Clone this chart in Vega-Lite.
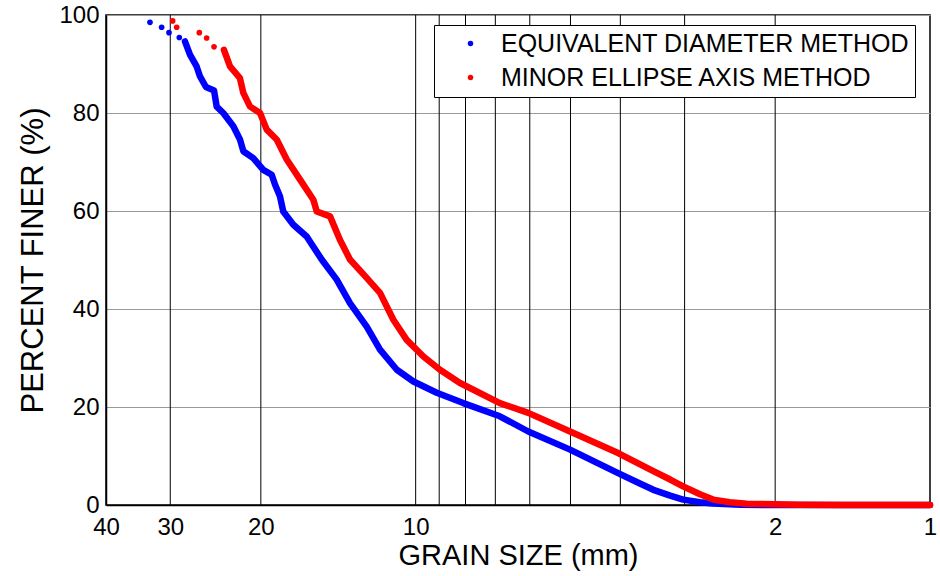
{
  "$schema": "https://vega.github.io/schema/vega-lite/v6.json",
  "width": 824,
  "height": 490,
  "autosize": "none",
  "padding": {"left": 106, "top": 15, "right": 10, "bottom": 71},
  "background": "white",
  "config": {
    "font": "Liberation Sans",
    "view": {"stroke": "black", "strokeWidth": 1.5},
    "axis": {
      "labelFont": "Liberation Sans",
      "titleFont": "Liberation Sans",
      "labelColor": "black",
      "titleColor": "black",
      "titleFontWeight": "normal",
      "domainColor": "black",
      "domainWidth": 1.5,
      "ticks": false,
      "labelFlush": false,
      "labelOverlap": false
    },
    "legend": {
      "orient": "none",
      "legendX": 328,
      "legendY": 10,
      "title": null,
      "fillColor": "white",
      "strokeColor": "black",
      "padding": 6,
      "labelFont": "Liberation Sans",
      "labelFontSize": 25,
      "labelColor": "black",
      "labelLimit": 0,
      "labelOffset": 18,
      "symbolType": "circle",
      "symbolSize": 30,
      "symbolOffset": 18,
      "symbolStrokeWidth": 0,
      "rowPadding": 8
    }
  },
  "datasets": {
    "grid": [
      {"size": 30}, {"size": 20}, {"size": 10}, {"size": 9}, {"size": 8}, {"size": 7},
      {"size": 6}, {"size": 5}, {"size": 4}, {"size": 3}, {"size": 2}
    ],
    "curve": [
      {"method": "EQUIVALENT DIAMETER METHOD", "size": 28.09, "pct": 94.6},
      {"method": "EQUIVALENT DIAMETER METHOD", "size": 27.47, "pct": 91.9},
      {"method": "EQUIVALENT DIAMETER METHOD", "size": 26.66, "pct": 89.5},
      {"method": "EQUIVALENT DIAMETER METHOD", "size": 26.27, "pct": 87.5},
      {"method": "EQUIVALENT DIAMETER METHOD", "size": 25.57, "pct": 85.3},
      {"method": "EQUIVALENT DIAMETER METHOD", "size": 24.66, "pct": 84.6},
      {"method": "EQUIVALENT DIAMETER METHOD", "size": 24.37, "pct": 81.3},
      {"method": "EQUIVALENT DIAMETER METHOD", "size": 23.66, "pct": 80.0},
      {"method": "EQUIVALENT DIAMETER METHOD", "size": 22.62, "pct": 77.3},
      {"method": "EQUIVALENT DIAMETER METHOD", "size": 21.96, "pct": 74.6},
      {"method": "EQUIVALENT DIAMETER METHOD", "size": 21.63, "pct": 72.2},
      {"method": "EQUIVALENT DIAMETER METHOD", "size": 20.69, "pct": 70.8},
      {"method": "EQUIVALENT DIAMETER METHOD", "size": 19.78, "pct": 68.4},
      {"method": "EQUIVALENT DIAMETER METHOD", "size": 19.05, "pct": 67.4},
      {"method": "EQUIVALENT DIAMETER METHOD", "size": 18.77, "pct": 65.4},
      {"method": "EQUIVALENT DIAMETER METHOD", "size": 18.36, "pct": 63.0},
      {"method": "EQUIVALENT DIAMETER METHOD", "size": 18.09, "pct": 59.9},
      {"method": "EQUIVALENT DIAMETER METHOD", "size": 17.29, "pct": 57.2},
      {"method": "EQUIVALENT DIAMETER METHOD", "size": 16.29, "pct": 54.8},
      {"method": "EQUIVALENT DIAMETER METHOD", "size": 15.23, "pct": 50.1},
      {"method": "EQUIVALENT DIAMETER METHOD", "size": 14.24, "pct": 46.0},
      {"method": "EQUIVALENT DIAMETER METHOD", "size": 13.42, "pct": 41.2},
      {"method": "EQUIVALENT DIAMETER METHOD", "size": 12.45, "pct": 36.4},
      {"method": "EQUIVALENT DIAMETER METHOD", "size": 11.73, "pct": 31.7},
      {"method": "EQUIVALENT DIAMETER METHOD", "size": 10.88, "pct": 27.6},
      {"method": "EQUIVALENT DIAMETER METHOD", "size": 10.10, "pct": 25.2},
      {"method": "EQUIVALENT DIAMETER METHOD", "size": 9.10, "pct": 22.9},
      {"method": "EQUIVALENT DIAMETER METHOD", "size": 8.08, "pct": 20.8},
      {"method": "EQUIVALENT DIAMETER METHOD", "size": 6.86, "pct": 18.1},
      {"method": "EQUIVALENT DIAMETER METHOD", "size": 6.04, "pct": 15.0},
      {"method": "EQUIVALENT DIAMETER METHOD", "size": 5.01, "pct": 11.3},
      {"method": "EQUIVALENT DIAMETER METHOD", "size": 4.04, "pct": 6.5},
      {"method": "EQUIVALENT DIAMETER METHOD", "size": 3.70, "pct": 4.6},
      {"method": "EQUIVALENT DIAMETER METHOD", "size": 3.45, "pct": 3.1},
      {"method": "EQUIVALENT DIAMETER METHOD", "size": 3.20, "pct": 1.9},
      {"method": "EQUIVALENT DIAMETER METHOD", "size": 3.02, "pct": 1.1},
      {"method": "EQUIVALENT DIAMETER METHOD", "size": 2.80, "pct": 0.55},
      {"method": "EQUIVALENT DIAMETER METHOD", "size": 2.64, "pct": 0.3},
      {"method": "EQUIVALENT DIAMETER METHOD", "size": 2.34, "pct": 0.05},
      {"method": "EQUIVALENT DIAMETER METHOD", "size": 2.0, "pct": 0},
      {"method": "EQUIVALENT DIAMETER METHOD", "size": 1.5, "pct": 0},
      {"method": "EQUIVALENT DIAMETER METHOD", "size": 1.0, "pct": 0},
      {"method": "MINOR ELLIPSE AXIS METHOD", "size": 23.59, "pct": 92.9},
      {"method": "MINOR ELLIPSE AXIS METHOD", "size": 22.96, "pct": 89.5},
      {"method": "MINOR ELLIPSE AXIS METHOD", "size": 21.96, "pct": 87.1},
      {"method": "MINOR ELLIPSE AXIS METHOD", "size": 21.63, "pct": 84.1},
      {"method": "MINOR ELLIPSE AXIS METHOD", "size": 20.99, "pct": 81.3},
      {"method": "MINOR ELLIPSE AXIS METHOD", "size": 20.07, "pct": 80.0},
      {"method": "MINOR ELLIPSE AXIS METHOD", "size": 19.48, "pct": 76.6},
      {"method": "MINOR ELLIPSE AXIS METHOD", "size": 18.63, "pct": 74.6},
      {"method": "MINOR ELLIPSE AXIS METHOD", "size": 17.81, "pct": 70.5},
      {"method": "MINOR ELLIPSE AXIS METHOD", "size": 16.78, "pct": 66.4},
      {"method": "MINOR ELLIPSE AXIS METHOD", "size": 15.81, "pct": 62.3},
      {"method": "MINOR ELLIPSE AXIS METHOD", "size": 15.57, "pct": 59.9},
      {"method": "MINOR ELLIPSE AXIS METHOD", "size": 14.67, "pct": 58.9},
      {"method": "MINOR ELLIPSE AXIS METHOD", "size": 14.03, "pct": 54.1},
      {"method": "MINOR ELLIPSE AXIS METHOD", "size": 13.42, "pct": 50.1},
      {"method": "MINOR ELLIPSE AXIS METHOD", "size": 12.54, "pct": 46.7},
      {"method": "MINOR ELLIPSE AXIS METHOD", "size": 11.73, "pct": 43.3},
      {"method": "MINOR ELLIPSE AXIS METHOD", "size": 11.05, "pct": 37.8},
      {"method": "MINOR ELLIPSE AXIS METHOD", "size": 10.41, "pct": 33.7},
      {"method": "MINOR ELLIPSE AXIS METHOD", "size": 9.66, "pct": 30.3},
      {"method": "MINOR ELLIPSE AXIS METHOD", "size": 8.97, "pct": 27.6},
      {"method": "MINOR ELLIPSE AXIS METHOD", "size": 8.20, "pct": 24.9},
      {"method": "MINOR ELLIPSE AXIS METHOD", "size": 6.86, "pct": 20.8},
      {"method": "MINOR ELLIPSE AXIS METHOD", "size": 6.04, "pct": 18.8},
      {"method": "MINOR ELLIPSE AXIS METHOD", "size": 5.01, "pct": 15.0},
      {"method": "MINOR ELLIPSE AXIS METHOD", "size": 4.04, "pct": 10.6},
      {"method": "MINOR ELLIPSE AXIS METHOD", "size": 3.45, "pct": 6.9},
      {"method": "MINOR ELLIPSE AXIS METHOD", "size": 3.20, "pct": 5.2},
      {"method": "MINOR ELLIPSE AXIS METHOD", "size": 3.02, "pct": 3.8},
      {"method": "MINOR ELLIPSE AXIS METHOD", "size": 2.80, "pct": 2.2},
      {"method": "MINOR ELLIPSE AXIS METHOD", "size": 2.64, "pct": 1.1},
      {"method": "MINOR ELLIPSE AXIS METHOD", "size": 2.45, "pct": 0.55},
      {"method": "MINOR ELLIPSE AXIS METHOD", "size": 2.27, "pct": 0.27},
      {"method": "MINOR ELLIPSE AXIS METHOD", "size": 1.79, "pct": 0.06},
      {"method": "MINOR ELLIPSE AXIS METHOD", "size": 1.5, "pct": 0},
      {"method": "MINOR ELLIPSE AXIS METHOD", "size": 1.0, "pct": 0}
    ],
    "dots": [
      {"method": "EQUIVALENT DIAMETER METHOD", "size": 32.85, "pct": 98.5},
      {"method": "EQUIVALENT DIAMETER METHOD", "size": 31.18, "pct": 97.5},
      {"method": "EQUIVALENT DIAMETER METHOD", "size": 30.17, "pct": 96.4},
      {"method": "EQUIVALENT DIAMETER METHOD", "size": 28.81, "pct": 95.4},
      {"method": "MINOR ELLIPSE AXIS METHOD", "size": 29.68, "pct": 98.8},
      {"method": "MINOR ELLIPSE AXIS METHOD", "size": 29.15, "pct": 97.5},
      {"method": "MINOR ELLIPSE AXIS METHOD", "size": 26.34, "pct": 96.4},
      {"method": "MINOR ELLIPSE AXIS METHOD", "size": 25.49, "pct": 95.3},
      {"method": "MINOR ELLIPSE AXIS METHOD", "size": 24.66, "pct": 93.5}
    ]
  },
  "layer": [
    {
      "data": {"name": "grid"},
      "mark": {"type": "rule", "color": "black", "strokeWidth": 1},
      "encoding": {
        "x": {
          "field": "size",
          "type": "quantitative",
          "scale": {"type": "log", "domain": [1, 40], "reverse": true, "nice": false},
          "axis": {
            "values": [40, 30, 20, 10, 2, 1],
            "format": "d",
            "grid": false,
            "labelFontSize": 24,
            "labelPadding": 10,
            "title": "GRAIN SIZE (mm)",
            "titleFontSize": 29,
            "titlePadding": 2
          }
        }
      }
    },
    {
      "data": {"name": "dots"},
      "mark": {"type": "point", "filled": true, "size": 32, "opacity": 1},
      "encoding": {
        "x": {"field": "size", "type": "quantitative"},
        "y": {"field": "pct", "type": "quantitative"},
        "color": {
          "field": "method",
          "type": "nominal",
          "scale": {
            "domain": ["EQUIVALENT DIAMETER METHOD", "MINOR ELLIPSE AXIS METHOD"],
            "range": ["#0000ff", "#ff0000"]
          }
        }
      }
    },
    {
      "data": {"name": "curve"},
      "mark": {"type": "line", "strokeWidth": 6.5, "strokeCap": "round", "strokeJoin": "round"},
      "encoding": {
        "x": {"field": "size", "type": "quantitative"},
        "y": {
          "field": "pct",
          "type": "quantitative",
          "scale": {"domain": [0, 100], "nice": false},
          "axis": {
            "values": [0, 20, 40, 60, 80, 100],
            "grid": true,
            "gridColor": "#9a9a9a",
            "gridWidth": 1,
            "labelFontSize": 24,
            "labelPadding": 7,
            "title": "PERCENT FINER (%)",
            "titleFontSize": 31,
            "titlePadding": 9
          }
        },
        "color": {"field": "method", "type": "nominal"}
      }
    }
  ]
}
